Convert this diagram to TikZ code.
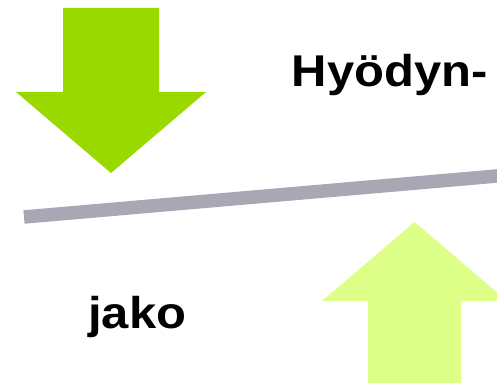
\documentclass[tikz,border=0pt]{standalone}
\usepackage{fontspec}
\setmainfont{Liberation Sans}
\definecolor{dgreen}{RGB}{153,217,0}
\definecolor{lgreen}{RGB}{221,255,136}
\definecolor{beam}{RGB}{168,168,180}
\begin{document}
\begin{tikzpicture}[x=1pt,y=-1pt,
  lbl/.style={inner sep=0pt,anchor=base west,font=\fontsize{44.5}{44.5}\selectfont\bfseries,xscale=1.1}]
\useasboundingbox (0,0) rectangle (497,385);
\clip (0,0) rectangle (497,385);
% down arrow
\fill[dgreen] (63,8) -- (159,8) -- (159,92) -- (206,92) -- (111,173) -- (16,92) -- (63,92) -- cycle;
% beam
\draw[beam,line width=13.5pt] (24,217) -- (520,174);
% up arrow
\fill[lgreen] (368,383) -- (461,383) -- (461,301) -- (507,301) -- (414.5,222) -- (322,301) -- (368,301) -- cycle;
\node[lbl] (hy) at (291.5,87) {Hyödyn-};
\node[lbl] (jako) at (88,328) {jako};
\end{tikzpicture}
\end{document}
